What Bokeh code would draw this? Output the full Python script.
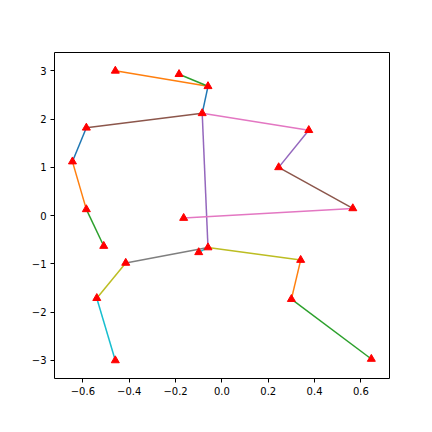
from bokeh.plotting import figure
from bokeh.models import Range1d, FixedTicker, CustomJSTickFormatter, ColumnDataSource
from bokeh.embed import file_html
from bokeh.resources import INLINE

# Joint positions
joint_x = [-0.46, -0.185, -0.06, -0.085, 0.375, -0.585, -0.645, 0.245, 0.565, -0.585,
           -0.165, -0.51, -0.06, -0.10, -0.415, 0.34, -0.54, 0.30, -0.46, 0.645]
joint_y = [3.00, 2.93, 2.68, 2.12, 1.77, 1.82, 1.12, 1.00, 0.15, 0.13,
           -0.05, -0.63, -0.66, -0.76, -0.98, -0.92, -1.71, -1.73, -3.00, -2.97]

# Bones: pairs of joint indices
bones = [(2, 3), (0, 2), (1, 2), (3, 12), (3, 5), (3, 4), (12, 14), (12, 15),
         (14, 16), (16, 18), (13, 12), (5, 6), (6, 9), (9, 11), (4, 7), (7, 8),
         (8, 10), (15, 17), (17, 19)]
bone_colors = ["#1f77b4", "#ff7f0e", "#2ca02c", "#9467bd", "#8c564b", "#e377c2",
               "#7f7f7f", "#bcbd22", "#bcbd22", "#17becf", "#17becf", "#1f77b4",
               "#ff7f0e", "#2ca02c", "#9467bd", "#8c564b", "#e377c2", "#ff7f0e",
               "#2ca02c"]

x_ticks = [-0.6, -0.4, -0.2, 0.0, 0.2, 0.4, 0.6]
y_ticks = [-3, -2, -1, 0, 1, 2, 3]

p = figure(frame_width=335, frame_height=326,
           x_range=Range1d(-0.7225, 0.7234), y_range=Range1d(-3.374, 3.38),
           output_backend="svg", toolbar_location=None,
           min_border_left=54, min_border_right=35,
           min_border_top=52, min_border_bottom=46)
p.background_fill_color = "white"
p.border_fill_color = "white"
p.outline_line_color = "black"
p.outline_line_width = 1
p.grid.visible = False

xs = [[joint_x[a], joint_x[b]] for a, b in bones]
ys = [[joint_y[a], joint_y[b]] for a, b in bones]
p.multi_line(xs=xs, ys=ys, line_color=bone_colors, line_width=1.5)

src = ColumnDataSource(dict(x=joint_x, y=joint_y))
p.scatter("x", "y", source=src, marker="triangle", size=8,
          fill_color="#ff0000", line_color="#ff0000", line_width=1)

p.xaxis.ticker = FixedTicker(ticks=x_ticks)
p.yaxis.ticker = FixedTicker(ticks=y_ticks)
p.xaxis.formatter = CustomJSTickFormatter(
    code="return (tick < -1e-9 ? '\u2212' : '') + Math.abs(tick).toFixed(1);")
p.yaxis.formatter = CustomJSTickFormatter(
    code="return (tick < -1e-9 ? '\u2212' : '') + Math.abs(tick).toFixed(0);")

for ax in (p.xaxis[0], p.yaxis[0]):
    ax.axis_line_color = None
    ax.major_tick_line_color = "black"
    ax.major_tick_out = 4
    ax.major_tick_in = 0
    ax.minor_tick_line_color = None
    ax.major_label_standoff = 4
    ax.major_label_text_font = "DejaVu Sans"
    ax.major_label_text_font_size = "10px"
    ax.major_label_text_color = "black"

open("out.html", "w").write(file_html(p, INLINE))
